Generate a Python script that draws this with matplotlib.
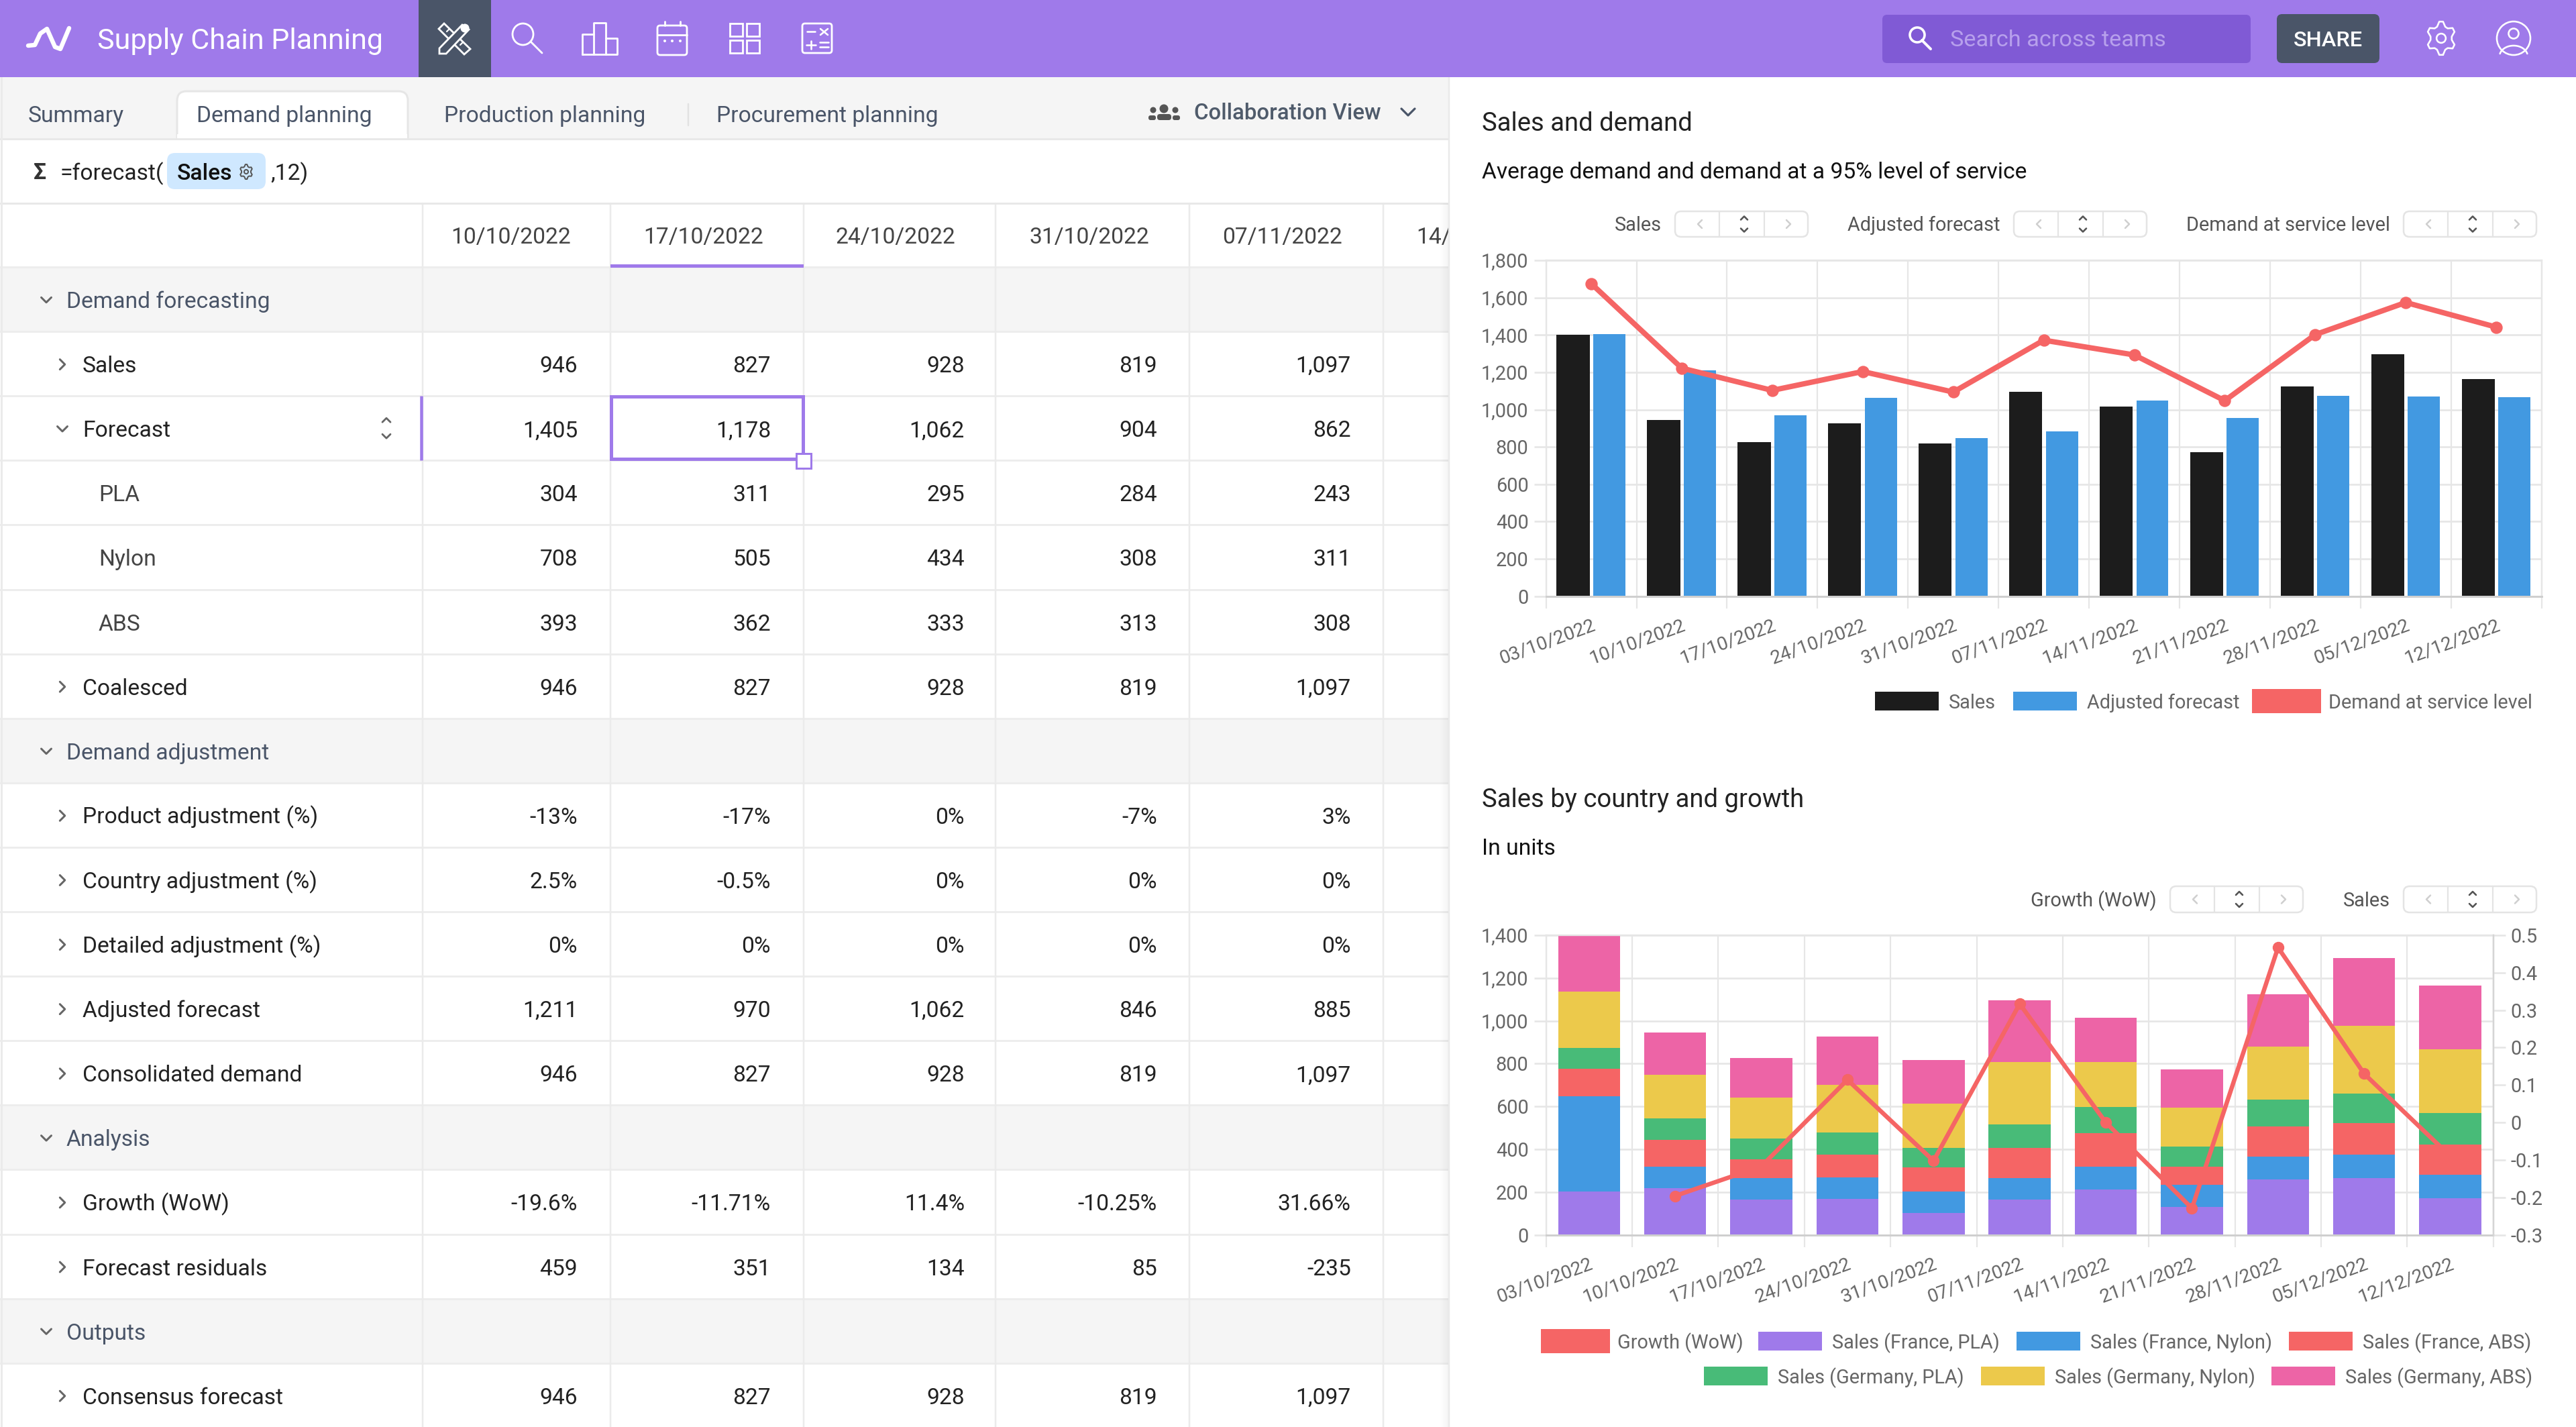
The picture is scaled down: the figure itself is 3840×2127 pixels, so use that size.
import numpy as np
import matplotlib
matplotlib.use("Agg")
import matplotlib.pyplot as plt
from matplotlib.patches import Rectangle, FancyBboxPatch, Ellipse, Polygon
from matplotlib.transforms import ScaledTranslation

plt.rcParams['font.family'] = ['Roboto', 'DejaVu Sans']

# ---------- chart data ----------
dates = ['03/10/2022', '10/10/2022', '17/10/2022', '24/10/2022', '31/10/2022', '07/11/2022',
         '14/11/2022', '21/11/2022', '28/11/2022', '05/12/2022', '12/12/2022']
sales = [1400, 946, 827, 928, 819, 1097, 1018, 773, 1125, 1295, 1164]
adjusted = [1405, 1211, 970, 1062, 846, 885, 1050, 955, 1075, 1070, 1068]
service = [1675, 1222, 1103, 1204, 1094, 1372, 1293, 1048, 1402, 1574, 1442]
fr_pla = [203, 217, 165, 169, 101, 164, 212, 131, 260, 264, 172]
fr_nylon = [443, 100, 99, 99, 101, 102, 107, 104, 105, 111, 109]
fr_abs = [129, 128, 90, 107, 112, 141, 155, 84, 142, 147, 142]
de_pla = [98, 100, 96, 103, 93, 109, 123, 94, 124, 139, 147]
de_nylon = [264, 202, 190, 224, 206, 291, 210, 180, 247, 317, 298]
de_abs = [263, 198, 186, 225, 205, 289, 208, 179, 246, 316, 296]
growth = [np.nan, -0.196, -0.1171, 0.114, -0.1025, 0.3166, 0.0, -0.229, 0.467, 0.13, -0.09]
left_ticks_1 = [0, 200, 400, 600, 800, 1000, 1200, 1400, 1600, 1800]
left_ticks_2 = [0, 200, 400, 600, 800, 1000, 1200, 1400]
right_ticks_2 = [-0.3, -0.2, -0.1, 0, 0.1, 0.2, 0.3, 0.4, 0.5]

# ---------- table data ----------
col_dates = ['10/10/2022', '17/10/2022', '24/10/2022', '31/10/2022', '07/11/2022']
row_labels = ['Demand forecasting', 'Sales', 'Forecast', 'PLA', 'Nylon', 'ABS', 'Coalesced',
              'Demand adjustment', 'Product adjustment (%)', 'Country adjustment (%)',
              'Detailed adjustment (%)', 'Adjusted forecast', 'Consolidated demand',
              'Analysis', 'Growth (WoW)', 'Forecast residuals', 'Outputs', 'Consensus forecast']
row_levels = [0, 1, 1, 2, 2, 2, 1, 0, 1, 1, 1, 1, 1, 0, 1, 1, 0, 1]
row_values = [None,
              ['946', '827', '928', '819', '1,097'],
              ['1,405', '1,178', '1,062', '904', '862'],
              ['304', '311', '295', '284', '243'],
              ['708', '505', '434', '308', '311'],
              ['393', '362', '333', '313', '308'],
              ['946', '827', '928', '819', '1,097'],
              None,
              ['-13%', '-17%', '0%', '-7%', '3%'],
              ['2.5%', '-0.5%', '0%', '0%', '0%'],
              ['0%', '0%', '0%', '0%', '0%'],
              ['1,211', '970', '1,062', '846', '885'],
              ['946', '827', '928', '819', '1,097'],
              None,
              ['-19.6%', '-11.71%', '11.4%', '-10.25%', '31.66%'],
              ['459', '351', '134', '85', '-235'],
              None,
              ['946', '827', '928', '819', '1,097']]

PURPLE, SLATE, BLUE, RED = '#9F7AEA', '#4A5568', '#4299E1', '#F56565'
GREEN, YELLOW, PINK, BLACK = '#48BB78', '#ECC94B', '#ED64A6', '#1C1C1C'
GRID, TXT, LINE = '#E6E6E6', '#666666', '#EDEDED'
W, H, DPI = 3840, 2127, 100
PT = 72 / DPI
FS = 33.7   # table / body text size in pixels
FC = 28.9   # chart text size in pixels

fig = plt.figure(figsize=(W / DPI, H / DPI), dpi=DPI, facecolor='white')
bg = fig.add_axes([0, 0, 1, 1], zorder=0)
bg.set_xlim(0, W); bg.set_ylim(H, 0); bg.axis('off')


def T(x, y, s, px=FS, color='#222222', ha='left', weight='normal', z=5, **kw):
    return bg.text(x, y + 0.355 * px, s, fontsize=px * PT, color=color, ha=ha, va='baseline',
                   fontweight=weight, zorder=z, **kw)


def R(x0, y0, x1, y1, fc, z=1, ec='none', lw=0):
    bg.add_patch(Rectangle((x0, y0), x1 - x0, y1 - y0, fc=fc, ec=ec, lw=lw * PT, zorder=z))


def L(xs, ys, color='white', lw=3, z=4, **kw):
    bg.plot(xs, ys, color=color, lw=lw * PT, zorder=z, solid_capstyle=kw.pop('cap', 'round'),
            solid_joinstyle='round', **kw)


def RB(x0, y0, x1, y1, r, fc, ec='none', lw=0, z=2):
    bg.add_patch(FancyBboxPatch((x0 + r, y0 + r), x1 - x0 - 2 * r, y1 - y0 - 2 * r,
                                boxstyle=f'round,pad={r},rounding_size={r}',
                                fc=fc, ec=ec, lw=lw * PT, zorder=z))


def chev(x, y, d, s=8, color='#666666', lw=3, z=6):
    if d == 'r':
        L([x - s / 2, x + s / 2, x - s / 2], [y - s, y, y + s], color, lw, z)
    if d == 'l':
        L([x + s / 2, x - s / 2, x + s / 2], [y - s, y, y + s], color, lw, z)
    if d == 'd':
        L([x - s, x, x + s], [y - s / 2, y + s / 2, y - s / 2], color, lw, z)
    if d == 'u':
        L([x - s, x, x + s], [y + s / 2, y - s / 2, y + s / 2], color, lw, z)


def gear(cx, cy, r, color, lw, z=6, teeth=6):
    a = np.linspace(0, 2 * np.pi, teeth * 4 + 1) + np.pi / 2 - np.pi / (teeth * 4) * 1
    rad = np.array([r, r, r * 0.74, r * 0.74] * teeth + [r])
    L(cx + rad * np.cos(a) * 0.86, cy + rad * np.sin(a), color, lw, z)
    bg.add_patch(Ellipse((cx, cy), r * 0.55, r * 0.55, fc='none', ec=color, lw=lw * PT, zorder=z))


# ---------- left panel ----------
R(0, 115, 2160, 207, '#F5F5F5')
R(0, 207, 2160, H, 'white')
L([0, 2160], [207, 207], '#E8E8E8', 3, 3)
L([0, 2160], [303, 303], '#E8E8E8', 3, 3)
L([2, 2], [115, H], '#EBEBEB', 3, 3)

# tabs
bg.add_patch(FancyBboxPatch((278, 150), 316, 100, boxstyle='round,pad=14,rounding_size=14',
                            fc='white', ec='#E6E6E6', lw=3 * PT, zorder=2))
R(255, 208, 620, 270, 'white', 2)
L([0, 2160], [207, 207], '#E8E8E8', 3, 2.5)
R(264, 200, 607, 206, 'white', 3)
T(42, 170, 'Summary', FS, SLATE)
T(293, 170, 'Demand planning', FS, SLATE)
T(662, 170, 'Production planning', FS, SLATE)
L([1026, 1026], [155, 187], '#E2E2E2', 2.5)
T(1068, 170, 'Procurement planning', FS, SLATE)
T(1780, 166, 'Collaboration View', 33, '#4F5B6B', weight='medium')
chev(2099, 167, 'd', 10, '#4A5568', 3.2)
bg.add_patch(Ellipse((1735, 162), 13, 13, fc='#555555', zorder=5))
bg.add_patch(Ellipse((1719, 164), 9, 9, fc='#555555', zorder=5))
bg.add_patch(Ellipse((1752, 164), 9, 9, fc='#555555', zorder=5))
RB(1725, 170, 1746, 179, 4, '#555555', z=5)
RB(1712, 172, 1723, 179, 3, '#555555', z=5)
RB(1748, 172, 1759, 179, 3, '#555555', z=5)

# formula bar
T(50, 255, 'Σ', FS, '#333333', weight='bold')
T(89, 256, '=forecast(', FS, '#222222')
RB(249, 228, 396, 282, 12, '#CFE8FF')
T(264, 256, 'Sales', FS, '#111111', weight='medium')
gear(367, 256, 11, '#555555', 2)
T(403, 256, ',12)', FS, '#222222')

# table grid
col_x = [630, 910, 1198, 1484, 1773, 2062]
col_right = [861, 1149, 1438, 1725, 2014]
col_center = [762, 1049, 1335, 1624, 1912]
row_top, row_h = 398, 96.1
for i, (lab, lev, vals) in enumerate(zip(row_labels, row_levels, row_values)):
    y0 = row_top + i * row_h
    yc = y0 + row_h / 2 + 1
    if lev == 0:
        R(0, y0, 2160, y0 + row_h, '#F5F5F5', 1)
        chev(69, yc, 'd', 7.5, '#666666', 3)
        T(99, yc, lab, FS, SLATE)
    elif lev == 1:
        chev(93, yc, 'd' if lab == 'Forecast' else 'r', 7.5, '#666666', 3)
        T(123, yc, lab, FS, '#222222')
    else:
        T(147, yc, lab, FS, '#444444')
    if vals:
        for xr, v in zip(col_right, vals):
            T(xr, yc, v, FS, '#222222', ha='right')
    L([0, 2160], [y0, y0], '#EDEDED', 3, 2)
for x in col_x:
    L([x, x], [303, H], '#EBEBEB', 2.5, 2)
for xc, d in zip(col_center, col_dates):
    T(xc, 351, d, FS, '#444444', ha='center')
T(2111, 351, '14/11/2022', FS, '#444444')
R(910, 394, 1198, 399, PURPLE, 4)

# selected cell
y_sel = row_top + 2 * row_h
L([628, 628], [y_sel, y_sel + row_h], PURPLE, 4.5, 4, cap='butt')
bg.add_patch(Rectangle((911, y_sel + 1), 286, row_h - 3, fc='none', ec=PURPLE, lw=5 * PT, zorder=4))
bg.add_patch(Rectangle((1187, 676), 22, 22, fc='white', ec=PURPLE, lw=3 * PT, zorder=5))
chev(576, y_sel + 36, 'u', 6, '#666666', 2.8)
chev(576, y_sel + 60, 'd', 6, '#666666', 2.8)

# ---------- header ----------
R(0, 0, W, 115, PURPLE, 6)
R(624, 0, 732, 115, SLATE, 7)
L([42, 52, 60, 70, 82, 90, 103], [68, 67, 50, 43, 70, 73, 42], 'white', 6.5, 8)
T(145, 58, 'Supply Chain Planning', 43, 'white', z=8)
# tool icon: ruler and pencil
IC = 2.8
bg.add_patch(Polygon([(654, 43), (662, 35), (701, 73), (692, 81)], closed=True, fc='none', ec='white',
                     lw=IC * PT, zorder=8))
L([666, 670], [47, 43], 'white', 2.2, 8)
L([686, 690], [67, 63], 'white', 2.2, 8)
bg.add_patch(Polygon([(655, 72), (689, 37), (699, 44), (665, 80), (655, 80)], closed=True, fc=SLATE,
                     ec='white', lw=IC * PT, zorder=8.5))
bg.add_patch(Ellipse((693, 42), 13, 13, fc='white', zorder=8.6))
# search
bg.add_patch(Ellipse((779.5, 51), 31, 32, fc='none', ec='white', lw=IC * PT, zorder=8))
L([791, 808], [62, 79], 'white', IC, 8)
# chart icon
L([868, 868, 885, 885, 903, 903, 920, 920, 868],
  [81, 51, 51, 34, 34, 57, 57, 81, 81], 'white', IC, 8)
L([885, 885], [51, 81], 'white', IC, 8)
L([903, 903], [57, 81], 'white', IC, 8)
# calendar
bg.add_patch(FancyBboxPatch((980, 38), 44, 44, boxstyle='round,pad=0,rounding_size=4',
                            fc='none', ec='white', lw=IC * PT, zorder=8))
L([980, 1024], [52, 52], 'white', IC, 8)
L([991, 991], [32, 38], 'white', IC, 8)
L([1014, 1014], [32, 38], 'white', IC, 8)
for xx in [991, 1002, 1014]:
    bg.add_patch(Ellipse((xx, 61), 4, 4, fc='white', zorder=8))
# grid
for xx, yy in [(1088, 35), (1113, 35), (1088, 60), (1113, 60)]:
    bg.add_patch(Rectangle((xx, yy), 19, 19, fc='none', ec='white', lw=IC * PT, zorder=8))
# calculator
bg.add_patch(FancyBboxPatch((1196, 35), 44, 44, boxstyle='round,pad=0,rounding_size=4',
                            fc='none', ec='white', lw=IC * PT, zorder=8))
L([1203, 1215], [47, 47], 'white', 2.6, 8)
L([1223, 1234], [43, 52], 'white', 2.6, 8)
L([1223, 1234], [52, 43], 'white', 2.6, 8)
L([1202, 1216], [67, 67], 'white', 2.6, 8)
L([1209, 1209], [61, 73], 'white', 2.6, 8)
L([1222, 1235], [63, 63], 'white', 2.6, 8)
L([1222, 1235], [70, 70], 'white', 2.6, 8)
# search box
RB(2806, 22, 3355, 94, 7, '#805AD5', z=7)
bg.add_patch(Ellipse((2858, 52), 22, 22, fc='none', ec='white', lw=3.6 * PT, zorder=8))
L([2865, 2878], [60, 73], 'white', 4, 8)
T(2907, 57, 'Search across teams', 34.3, '#B7A0EC', z=8)
RB(3394, 21, 3547, 94, 8, SLATE, z=7)
T(3470, 57, 'SHARE', 32.5, 'white', ha='center', weight='medium', z=8)
gear(3639, 57, 25, 'white', 2.6, 8, teeth=6)
bg.add_patch(Ellipse((3747, 57), 50, 50, fc='none', ec='white', lw=2.6 * PT, zorder=8))
bg.add_patch(Ellipse((3747, 50), 15, 15, fc='none', ec='white', lw=2.6 * PT, zorder=8))
a = np.linspace(np.pi * 1.08, np.pi * 1.92, 30)
L(3747 + 21 * np.cos(a), 84 + 16 * np.sin(a), 'white', 2.6, 8)

# ---------- right panel ----------
R(2160, 115, W, H, 'white', 5)
L([2160, 2160], [115, H], '#EAEAEA', 2.5, 5.2, cap='butt')
for k in range(7):   # soft shadow on the table, left of the panel
    R(2147 + k * 2, 303, 2149 + k * 2, H, (0, 0, 0, 0.006 + 0.0065 * k), 4.9)
T(2209, 181, 'Sales and demand', 38.3, '#222222', z=6)
T(2209, 254, 'Average demand and demand at a 95% level of service', FS, '#111111', z=6)
T(2209, 1189, 'Sales by country and growth', 38.3, '#222222', z=6)
T(2209, 1262, 'In units', FS, '#111111', z=6)


def toolbar(x0, y0, y1, label):
    x1 = x0 + 198
    RB(x0, y0, x1, y1, 9, 'white', '#E4E4E4', 2.5, 6)
    L([x0 + 66, x0 + 66], [y0, y1], '#E4E4E4', 2.2, 6)
    L([x0 + 133, x0 + 133], [y0, y1], '#E4E4E4', 2.2, 6)
    ym = (y0 + y1) / 2
    chev(x0 + 37, ym, 'l', 6, '#CFCFCF', 2.5, 7)
    chev(x0 + 169, ym, 'r', 6, '#CFCFCF', 2.5, 7)
    chev(x0 + 103, ym - 9, 'u', 5, '#555555', 2.6, 7)
    chev(x0 + 103, ym + 9, 'd', 5, '#555555', 2.6, 7)
    T(x0 - 20, ym, label, FC, '#555555', ha='right', z=7)


toolbar(2497, 315, 353, 'Sales')
toolbar(3002, 315, 353, 'Adjusted forecast')
toolbar(3583, 315, 353, 'Demand at service level')
toolbar(3235, 1321, 1360, 'Growth (WoW)')
toolbar(3583, 1321, 1360, 'Sales')


def legend_item(x0, y0, y1, color, label, big=False):
    h = 4 if big else 0
    w = 103 if big else 95
    R(x0, y0 - h, x0 + w, y1 + h, color, 6)
    T(x0 + w + (11 if big else 15), (y0 + y1) / 2 + 1, label, FC, '#666666', z=6)


legend_item(2795, 1031, 1059, BLACK, 'Sales')
legend_item(3001, 1031, 1059, BLUE, 'Adjusted forecast')
legend_item(3357, 1031, 1059, RED, 'Demand at service level', True)
legend_item(2297, 1985, 2013, RED, 'Growth (WoW)', True)
legend_item(2621, 1985, 2013, PURPLE, 'Sales (France, PLA)')
legend_item(3006, 1985, 2013, BLUE, 'Sales (France, Nylon)')
legend_item(3412, 1985, 2013, RED, 'Sales (France, ABS)')
legend_item(2540, 2037, 2065, GREEN, 'Sales (Germany, PLA)')
legend_item(2953, 2037, 2065, YELLOW, 'Sales (Germany, Nylon)')
legend_item(3386, 2037, 2065, PINK, 'Sales (Germany, ABS)')


# ---------- charts ----------
def make_axes(x0, y0, x1, y1):
    ax = fig.add_axes([x0 / W, 1 - y1 / H, (x1 - x0) / W, (y1 - y0) / H], zorder=10)
    ax.patch.set_alpha(0)
    n = len(dates)
    ax.set_xlim(-0.5, n - 0.5)
    centres = np.arange(n)
    ax.set_xticks(centres)
    ax.set_xticklabels(dates, rotation=20, ha='right', rotation_mode='anchor',
                       fontsize=28.3 * PT, color=TXT)
    off = ScaledTranslation(25 / DPI, -4 / DPI, fig.dpi_scale_trans)
    for lb in ax.get_xticklabels():
        lb.set_transform(lb.get_transform() + off)
    ax.tick_params(axis='x', which='major', length=0, pad=30 * PT)
    ax.set_xticks(np.arange(n + 1) - 0.5, minor=True)
    ax.tick_params(axis='x', which='minor', length=18 * PT, width=2.2 * PT, color=GRID)
    ax.grid(True, which='minor', axis='x', color=GRID, lw=2.2 * PT, zorder=0)
    ax.grid(True, which='major', axis='y', color=GRID, lw=2.6 * PT, zorder=0)
    ax.tick_params(axis='y', length=18 * PT, width=2.6 * PT, color=GRID, pad=8 * PT,
                   labelsize=FC * PT, labelcolor=TXT)
    for s in ax.spines.values():
        s.set_color(GRID); s.set_linewidth(2.4 * PT)
    ax.spines['bottom'].set_color('#CFCFCF')
    ax.spines['bottom'].set_linewidth(3 * PT)
    ax.set_axisbelow(True)
    return ax


fmt = lambda v: f'{v:,}'

ax1 = make_axes(2304.6, 388, 3788.6, 888.7)
x = np.arange(len(dates))
ax1.bar(x - 0.2, sales, width=0.365, color=BLACK, zorder=2)
ax1.bar(x + 0.2, adjusted, width=0.355, color=BLUE, zorder=2)
ax1.plot(x, service, color=RED, lw=8 * PT, marker='o', ms=17 * PT, zorder=3, solid_joinstyle='round')
ax1.set_ylim(0, 1800)
ax1.set_yticks(left_ticks_1)
ax1.set_yticklabels([fmt(v) for v in left_ticks_1])

ax2 = make_axes(2304.6, 1393.9, 3716.8, 1840.6)
bottom = np.zeros(len(dates))
for vals, col in [(fr_pla, PURPLE), (fr_nylon, BLUE), (fr_abs, RED), (de_pla, GREEN),
                  (de_nylon, YELLOW), (de_abs, PINK)]:
    ax2.bar(x, vals, width=0.72, bottom=bottom, color=col, zorder=2)
    bottom = bottom + np.array(vals)
ax2.set_ylim(0, 1400)
ax2.set_yticks(left_ticks_2)
ax2.set_yticklabels([fmt(v) for v in left_ticks_2])
ax3 = ax2.twinx()
ax3.patch.set_alpha(0)
ax3.plot(x, growth, color=RED, lw=6.5 * PT, marker='o', ms=16 * PT, zorder=5, solid_joinstyle='round')
ax3.set_ylim(-0.3, 0.5)
ax3.set_yticks(right_ticks_2)
ax3.set_yticklabels(['%g' % v for v in right_ticks_2])
ax3.tick_params(axis='y', length=18 * PT, width=2.6 * PT, color=GRID, pad=8 * PT,
                labelsize=FC * PT, labelcolor=TXT)
for s in ax3.spines.values():
    s.set_visible(False)
ax3.spines['right'].set_visible(True)
ax3.spines['right'].set_color('#D5D5D5')
ax3.spines['right'].set_linewidth(2.4 * PT)

fig.savefig('out.png', dpi=DPI, facecolor='white')
